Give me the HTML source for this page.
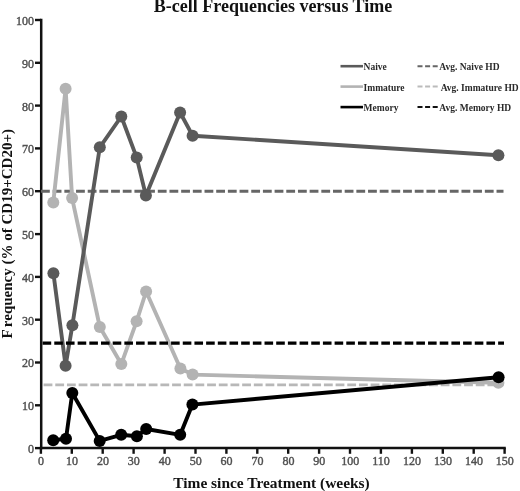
<!DOCTYPE html>
<html><head><meta charset="utf-8"><style>
html,body{margin:0;padding:0;background:#fff;}
body{width:520px;height:491px;overflow:hidden;position:relative;}
svg{position:absolute;left:0;top:0;filter:blur(0.45px);}
.tk{font-family:"Liberation Serif",serif;font-size:12px;fill:#505050;stroke:#505050;stroke-width:0.4px;}
.lg{font-family:"Liberation Serif",serif;font-size:9.5px;font-weight:bold;fill:#2a2a2a;}
.tt{font-family:"Liberation Serif",serif;font-weight:bold;fill:#111;}
</style></head><body>
<svg width="520" height="491" viewBox="0 0 520 491">
<text x="273" y="12.3" text-anchor="middle" class="tt" style="font-size:18px">B-cell Frequencies versus Time</text>
<line x1="41.2" y1="18.8" x2="41.2" y2="449.3" stroke="#111" stroke-width="2.5"/><line x1="39.8" y1="448.1" x2="505.8" y2="448.1" stroke="#111" stroke-width="2.5"/><line x1="35" y1="448.1" x2="41" y2="448.1" stroke="#111" stroke-width="2.4"/><line x1="35" y1="405.3" x2="41" y2="405.3" stroke="#111" stroke-width="2.4"/><line x1="35" y1="362.5" x2="41" y2="362.5" stroke="#111" stroke-width="2.4"/><line x1="35" y1="319.7" x2="41" y2="319.7" stroke="#111" stroke-width="2.4"/><line x1="35" y1="276.9" x2="41" y2="276.9" stroke="#111" stroke-width="2.4"/><line x1="35" y1="234.1" x2="41" y2="234.1" stroke="#111" stroke-width="2.4"/><line x1="35" y1="191.2" x2="41" y2="191.2" stroke="#111" stroke-width="2.4"/><line x1="35" y1="148.4" x2="41" y2="148.4" stroke="#111" stroke-width="2.4"/><line x1="35" y1="105.6" x2="41" y2="105.6" stroke="#111" stroke-width="2.4"/><line x1="35" y1="62.8" x2="41" y2="62.8" stroke="#111" stroke-width="2.4"/><line x1="35" y1="20.0" x2="41" y2="20.0" stroke="#111" stroke-width="2.4"/><line x1="40.9" y1="448" x2="40.9" y2="453.8" stroke="#111" stroke-width="2.4"/><line x1="71.8" y1="448" x2="71.8" y2="453.8" stroke="#111" stroke-width="2.4"/><line x1="102.7" y1="448" x2="102.7" y2="453.8" stroke="#111" stroke-width="2.4"/><line x1="133.6" y1="448" x2="133.6" y2="453.8" stroke="#111" stroke-width="2.4"/><line x1="164.6" y1="448" x2="164.6" y2="453.8" stroke="#111" stroke-width="2.4"/><line x1="195.5" y1="448" x2="195.5" y2="453.8" stroke="#111" stroke-width="2.4"/><line x1="226.4" y1="448" x2="226.4" y2="453.8" stroke="#111" stroke-width="2.4"/><line x1="257.3" y1="448" x2="257.3" y2="453.8" stroke="#111" stroke-width="2.4"/><line x1="288.2" y1="448" x2="288.2" y2="453.8" stroke="#111" stroke-width="2.4"/><line x1="319.1" y1="448" x2="319.1" y2="453.8" stroke="#111" stroke-width="2.4"/><line x1="350.0" y1="448" x2="350.0" y2="453.8" stroke="#111" stroke-width="2.4"/><line x1="380.9" y1="448" x2="380.9" y2="453.8" stroke="#111" stroke-width="2.4"/><line x1="411.9" y1="448" x2="411.9" y2="453.8" stroke="#111" stroke-width="2.4"/><line x1="442.8" y1="448" x2="442.8" y2="453.8" stroke="#111" stroke-width="2.4"/><line x1="473.7" y1="448" x2="473.7" y2="453.8" stroke="#111" stroke-width="2.4"/><line x1="504.6" y1="448" x2="504.6" y2="453.8" stroke="#111" stroke-width="2.4"/>
<line x1="41" y1="191.3" x2="503.5" y2="191.3" stroke="#666" stroke-width="3" stroke-dasharray="8.8 2.88"/><line x1="43.6" y1="384.8" x2="503.5" y2="384.8" stroke="#b8b8b8" stroke-width="2.8" stroke-dasharray="8.8 2.88"/><path d="M53.3,202.4 L65.6,88.7 L72.1,198.1 L99.8,327.0 L121.3,364.1 L136.6,321.3 L146.1,291.5 L180.4,368.5 L192.6,374.6 L498.4,382.8" fill="none" stroke="#b3b3b3" stroke-width="3.9" stroke-linejoin="round"/><circle cx="53.3" cy="202.4" r="6.0" fill="#b3b3b3"/><circle cx="65.6" cy="88.7" r="6.0" fill="#b3b3b3"/><circle cx="72.1" cy="198.1" r="6.0" fill="#b3b3b3"/><circle cx="99.8" cy="327.0" r="6.0" fill="#b3b3b3"/><circle cx="121.3" cy="364.1" r="6.0" fill="#b3b3b3"/><circle cx="136.6" cy="321.3" r="6.0" fill="#b3b3b3"/><circle cx="146.1" cy="291.5" r="6.0" fill="#b3b3b3"/><circle cx="180.4" cy="368.5" r="6.0" fill="#b3b3b3"/><circle cx="192.6" cy="374.6" r="6.0" fill="#b3b3b3"/><circle cx="498.4" cy="382.8" r="6.0" fill="#b3b3b3"/><path d="M53.4,273.3 L65.6,365.8 L72.4,325.2 L99.8,147.3 L121.3,116.5 L136.7,157.6 L145.9,195.6 L180.1,112.5 L192.6,135.7 L498.4,155.2" fill="none" stroke="#5a5a5a" stroke-width="3.9" stroke-linejoin="round"/><circle cx="53.4" cy="273.3" r="6.0" fill="#5a5a5a"/><circle cx="65.6" cy="365.8" r="6.0" fill="#5a5a5a"/><circle cx="72.4" cy="325.2" r="6.0" fill="#5a5a5a"/><circle cx="99.8" cy="147.3" r="6.0" fill="#5a5a5a"/><circle cx="121.3" cy="116.5" r="6.0" fill="#5a5a5a"/><circle cx="136.7" cy="157.6" r="6.0" fill="#5a5a5a"/><circle cx="145.9" cy="195.6" r="6.0" fill="#5a5a5a"/><circle cx="180.1" cy="112.5" r="6.0" fill="#5a5a5a"/><circle cx="192.6" cy="135.7" r="6.0" fill="#5a5a5a"/><circle cx="498.4" cy="155.2" r="6.0" fill="#5a5a5a"/><line x1="42.6" y1="343.1" x2="504" y2="343.1" stroke="#000" stroke-width="3.1" stroke-dasharray="8.6 3.08"/><path d="M53.2,440.2 L66.0,438.8 L72.3,393.0 L99.7,440.9 L121.2,434.8 L136.9,436.3 L146.2,429.0 L180.2,434.8 L192.4,404.6 L498.6,377.3" fill="none" stroke="#000" stroke-width="3.9" stroke-linejoin="round"/><circle cx="53.2" cy="440.2" r="6.0" fill="#000"/><circle cx="66.0" cy="438.8" r="6.0" fill="#000"/><circle cx="72.3" cy="393.0" r="6.0" fill="#000"/><circle cx="99.7" cy="440.9" r="6.0" fill="#000"/><circle cx="121.2" cy="434.8" r="6.0" fill="#000"/><circle cx="136.9" cy="436.3" r="6.0" fill="#000"/><circle cx="146.2" cy="429.0" r="6.0" fill="#000"/><circle cx="180.2" cy="434.8" r="6.0" fill="#000"/><circle cx="192.4" cy="404.6" r="6.0" fill="#000"/><circle cx="498.6" cy="377.3" r="6.0" fill="#000"/>
<text x="33.9" y="453.0" text-anchor="end" class="tk">0</text><text x="33.9" y="410.2" text-anchor="end" class="tk">10</text><text x="33.9" y="367.4" text-anchor="end" class="tk">20</text><text x="33.9" y="324.6" text-anchor="end" class="tk">30</text><text x="33.9" y="281.8" text-anchor="end" class="tk">40</text><text x="33.9" y="239.0" text-anchor="end" class="tk">50</text><text x="33.9" y="196.1" text-anchor="end" class="tk">60</text><text x="33.9" y="153.3" text-anchor="end" class="tk">70</text><text x="33.9" y="110.5" text-anchor="end" class="tk">80</text><text x="33.9" y="67.7" text-anchor="end" class="tk">90</text><text x="33.9" y="24.9" text-anchor="end" class="tk">100</text><text x="41.1" y="464.6" text-anchor="middle" class="tk">0</text><text x="72.0" y="464.6" text-anchor="middle" class="tk">10</text><text x="102.9" y="464.6" text-anchor="middle" class="tk">20</text><text x="133.8" y="464.6" text-anchor="middle" class="tk">30</text><text x="164.8" y="464.6" text-anchor="middle" class="tk">40</text><text x="195.7" y="464.6" text-anchor="middle" class="tk">50</text><text x="226.6" y="464.6" text-anchor="middle" class="tk">60</text><text x="257.5" y="464.6" text-anchor="middle" class="tk">70</text><text x="288.4" y="464.6" text-anchor="middle" class="tk">80</text><text x="319.3" y="464.6" text-anchor="middle" class="tk">90</text><text x="350.2" y="464.6" text-anchor="middle" class="tk">100</text><text x="381.1" y="464.6" text-anchor="middle" class="tk">110</text><text x="412.1" y="464.6" text-anchor="middle" class="tk">120</text><text x="443.0" y="464.6" text-anchor="middle" class="tk">130</text><text x="473.9" y="464.6" text-anchor="middle" class="tk">140</text><text x="504.8" y="464.6" text-anchor="middle" class="tk">150</text>
<line x1="340.5" y1="66.2" x2="363" y2="66.2" stroke="#5a5a5a" stroke-width="2.6"/><text x="363.6" y="70.1" class="lg">Naive</text><line x1="417.5" y1="66.2" x2="439" y2="66.2" stroke="#666" stroke-width="2" stroke-dasharray="5 2.6"/><text x="439.3" y="70.1" class="lg">Avg. Naive HD</text><line x1="340.5" y1="86.6" x2="363" y2="86.6" stroke="#b3b3b3" stroke-width="2.6"/><text x="363.6" y="90.5" class="lg">Immature</text><line x1="417.5" y1="86.6" x2="439" y2="86.6" stroke="#bbb" stroke-width="2" stroke-dasharray="5 2.6"/><text x="440.7" y="90.5" class="lg">Avg. Immature HD</text><line x1="340.5" y1="107.1" x2="363" y2="107.1" stroke="#000" stroke-width="2.6"/><text x="363.6" y="111.0" class="lg">Memory</text><line x1="417.5" y1="107.1" x2="439" y2="107.1" stroke="#111" stroke-width="2" stroke-dasharray="5 2.6"/><text x="439.3" y="111.0" class="lg">Avg. Memory HD</text>
<text x="271.5" y="487.8" text-anchor="middle" class="tt" style="font-size:15.45px">Time since Treatment (weeks)</text>
<text transform="translate(12.2,233.8) rotate(-90)" x="0" y="0" text-anchor="middle" class="tt" style="font-size:15px">F<tspan dx="2.2">requency (% of CD19+CD20+)</tspan></text>
</svg>
</body></html>
